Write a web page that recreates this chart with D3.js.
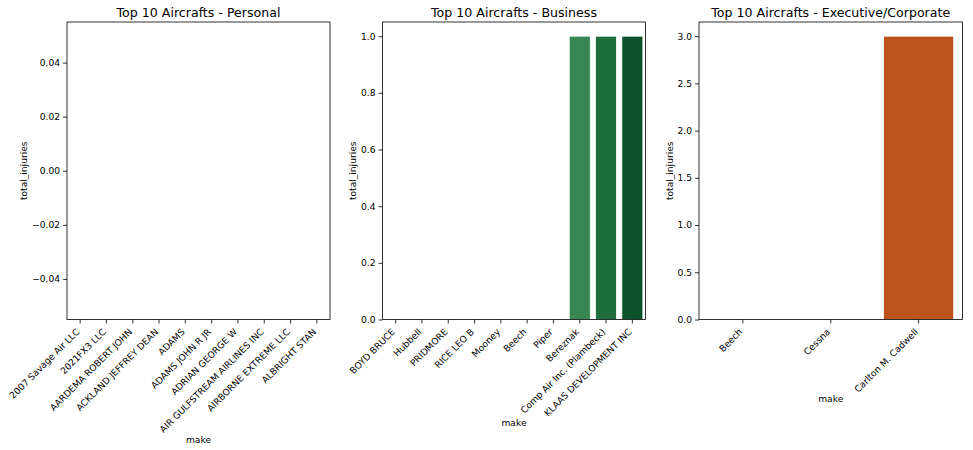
<!DOCTYPE html>
<html>
<head>
  <meta charset="utf-8">
  <title>Top 10 Aircrafts</title>
  <script src="https://cdn.jsdelivr.net/npm/d3@7"></script>
  <style>
    body { margin: 0; background: #fff; }
    text { font-family: "DejaVu Sans", sans-serif; fill: #000; }
  </style>
</head>
<body>
<svg id="chart"></svg>
<script>
  var personalMakes = ["2007 Savage Air LLC", "2021FX3 LLC", "AARDEMA ROBERT JOHN", "ACKLAND JEFFREY DEAN",
    "ADAMS", "ADAMS JOHN R JR", "ADRIAN GEORGE W", "AIR GULFSTREAM AIRLINES INC",
    "AIRBORNE EXTREME LLC", "ALBRIGHT STAN"];
  var personalInjuries = [0, 0, 0, 0, 0, 0, 0, 0, 0, 0];
  var personalTicks = [-0.04, -0.02, 0.00, 0.02, 0.04];

  var businessMakes = ["BOYD BRUCE", "Hubbell", "PRIDMORE", "RICE LEO B", "Mooney", "Beech", "Piper",
    "Bereznak", "Comp Air Inc. (Plambeck)", "KLAAS DEVELOPMENT INC"];
  var businessInjuries = [0, 0, 0, 0, 0, 0, 0, 1, 1, 1];
  var businessTicks = [0.0, 0.2, 0.4, 0.6, 0.8, 1.0];

  var execMakes = ["Beech", "Cessna", "Carlton M. Cadwell"];
  var execInjuries = [0, 0, 3];
  var execTicks = [0.0, 0.5, 1.0, 1.5, 2.0, 2.5, 3.0];

  var greens = ["#d3eecd", "#b7e2b1", "#98d594", "#74c476", "#4fb264", "#3a9c57", "#2e8b4c",
    "#388752", "#1e6e3c", "#0c532d"];
  var oranges = ["#f29a5a", "#e06c2a", "#be521c"];

  var W = 973, H = 450;
  var svg = d3.select("#chart").attr("width", W).attr("height", H);

  var panels = [
    { title: "Top 10 Aircrafts - Personal", makes: personalMakes, vals: personalInjuries,
      ticks: personalTicks, dom: [-0.055, 0.055], fmt: d3.format(".2f"), colors: greens, x0: 67, x1: 330 },
    { title: "Top 10 Aircrafts - Business", makes: businessMakes, vals: businessInjuries,
      ticks: businessTicks, dom: [0, 1.05], fmt: d3.format(".1f"), colors: greens, x0: 382.5, x1: 645.5 },
    { title: "Top 10 Aircrafts - Executive/Corporate", makes: execMakes, vals: execInjuries,
      ticks: execTicks, dom: [0, 3.15], fmt: d3.format(".1f"), colors: oranges, x0: 699, x1: 962.5 }
  ];
  var plotTop = 22, plotBottom = 319.5;
  var tickFont = "9.1px", titleFont = "12.6px";

  panels.forEach(function(p) {
    var g = svg.append("g");
    var x = d3.scaleBand().domain(p.makes).range([p.x0, p.x1]).paddingInner(0).paddingOuter(0);
    var y = d3.scaleLinear().domain(p.dom).range([plotBottom, plotTop]);
    var fmt = function(d) { return p.fmt(d).replace("-", "\u2212"); };

    // bars (width 0.8 of the band, white edge like seaborn)
    g.selectAll("rect.bar").data(p.vals).enter().append("rect")
      .attr("class", "bar")
      .attr("x", function(d, i) { return x(p.makes[i]) + x.bandwidth() * 0.1; })
      .attr("width", x.bandwidth() * 0.8)
      .attr("y", function(d) { return y(Math.max(0, d)); })
      .attr("height", function(d) { return Math.abs(y(d) - y(0)); })
      .attr("fill", function(d, i) { return p.colors[i]; })
      .attr("stroke", function(d) { return d === 0 ? "none" : "#fff"; })
      .attr("stroke-width", 0.8);

    // y axis
    var ya = g.append("g").attr("transform", "translate(" + p.x0 + ",0)")
      .call(d3.axisLeft(y).tickValues(p.ticks).tickFormat(fmt).tickSize(4).tickPadding(3));
    ya.select(".domain").remove();
    ya.selectAll("line").attr("stroke", "#000").attr("stroke-width", 0.8);
    ya.selectAll("text").style("font-size", tickFont);

    // x axis, labels rotated 45 and right aligned at the tick
    var xa = g.append("g").attr("transform", "translate(0," + plotBottom + ")")
      .call(d3.axisBottom(x).tickSize(4).tickSizeOuter(0));
    xa.select(".domain").remove();
    xa.selectAll("line").attr("stroke", "#000").attr("stroke-width", 0.8);
    xa.selectAll("text")
      .style("font-size", tickFont)
      .attr("text-anchor", "end")
      .attr("y", 0).attr("dy", 0)
      .attr("transform", "translate(0,13) rotate(-45)");

    // spines
    g.append("rect").attr("x", p.x0).attr("y", plotTop)
      .attr("width", p.x1 - p.x0).attr("height", plotBottom - plotTop)
      .attr("fill", "none").attr("stroke", "#000").attr("stroke-width", 0.8);

    // title
    g.append("text").attr("x", (p.x0 + p.x1) / 2).attr("y", plotTop - 5)
      .attr("text-anchor", "middle").style("font-size", titleFont).text(p.title);

    // axis labels placed outside the tick label boxes
    var xb = xa.node().getBBox();
    g.append("text").attr("x", (p.x0 + p.x1) / 2).attr("y", plotBottom + xb.y + xb.height + 8)
      .attr("text-anchor", "middle").style("font-size", tickFont).text("make");
    var yb = ya.node().getBBox();
    g.append("text")
      .attr("transform", "translate(" + (p.x0 + yb.x - 5) + "," + ((plotTop + plotBottom) / 2) + ") rotate(-90)")
      .attr("text-anchor", "middle").style("font-size", tickFont).text("total_injuries");
  });
</script>
</body>
</html>
